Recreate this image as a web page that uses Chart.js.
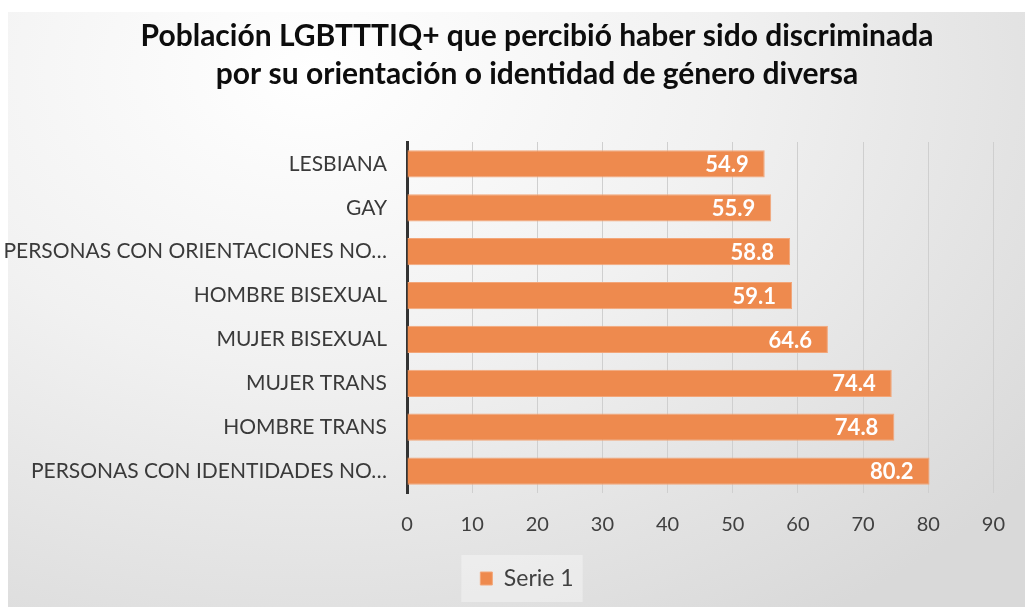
<!DOCTYPE html>
<html>
<head>
<meta charset="utf-8">
<script src="https://cdn.jsdelivr.net/npm/chart.js@4/dist/chart.umd.min.js"></script>
<style>
  html, body { margin: 0; padding: 0; background: #fff; }
  #wrap {
    position: absolute; left: 0; top: 0; width: 1025px; height: 607px;
  }
  #bg {
    position: absolute; left: 8px; top: 12px; width: 1017px; height: 595px;
    background: radial-gradient(ellipse 90% 110% at 30% 10%, #ffffff 0%, #f1f1f1 45%, #d9d9d9 100%);
  }
  canvas { position: absolute; left: 0; top: 0; }
</style>
</head>
<body>
<div id="wrap">
  <div id="bg"></div>
  <canvas id="chart" width="1025" height="607"></canvas>
</div>
<script>
const categories = [
  'LESBIANA',
  'GAY',
  'PERSONAS CON ORIENTACIONES NO…',
  'HOMBRE BISEXUAL',
  'MUJER BISEXUAL',
  'MUJER TRANS',
  'HOMBRE TRANS',
  'PERSONAS CON IDENTIDADES NO…'
];
const serie1 = [54.9, 55.9, 58.8, 59.1, 64.6, 74.4, 74.8, 80.2];
const titleLines = [
  'Población LGBTTTIQ+ que percibió haber sido discriminada',
  'por su orientación o identidad de género diversa'
];

const FONT = 'Lato, "Open Sans", sans-serif';

// title and legend sit a bit right of the canvas centre in the original
const shiftBoxes = {
  id: 'shiftBoxes',
  afterLayout(chart) {
    const t = chart.titleBlock;
    if (t) { t.left += 36; t.right += 36; }
    const lg = chart.legend;
    if (lg) { lg.left += 26; lg.right += 26; }
  }
};

// white value labels at the end of each bar
const barLabels = {
  id: 'barLabels',
  afterDatasetsDraw(chart) {
    const ctx = chart.ctx;
    const meta = chart.getDatasetMeta(0);
    ctx.save();
    ctx.fillStyle = '#ffffff';
    ctx.font = 'bold 22px ' + FONT;
    ctx.textAlign = 'right';
    ctx.textBaseline = 'middle';
    meta.data.forEach((bar, i) => {
      ctx.fillText(serie1[i].toFixed(1), bar.x - 16, bar.y + 1);
    });
    ctx.restore();
  }
};

// faint box behind the legend
const legendBox = {
  id: 'legendBox',
  beforeDraw(chart) {
    const lg = chart.legend;
    if (!lg || !lg.legendHitBoxes.length) return;
    const hb = lg.legendHitBoxes[0];
    const ctx = chart.ctx;
    ctx.save();
    ctx.fillStyle = 'rgba(255,255,255,0.35)';
    ctx.fillRect(hb.left - 19, hb.top - 12, hb.width + 28, hb.height + 24);
    ctx.restore();
  }
};

new Chart(document.getElementById('chart'), {
  type: 'bar',
  data: {
    labels: categories,
    datasets: [{
      label: 'Serie 1',
      data: serie1,
      backgroundColor: '#ee8a4e',
      borderColor: '#f3a679',
      borderWidth: 1,
      categoryPercentage: 0.62,
      barPercentage: 1.0
    }]
  },
  options: {
    indexAxis: 'y',
    responsive: false,
    animation: false,
    layout: { padding: { left: 0, right: 23, top: 0, bottom: 7 } },
    scales: {
      x: {
        min: 0,
        max: 90,
        ticks: { stepSize: 10, color: '#404040', font: { family: FONT, size: 20 }, padding: 20 },
        grid: { color: '#cfcfcf', lineWidth: 1, drawTicks: false },
        border: { display: false },
        afterFit(scale) { scale.height = 64; }
      },
      y: {
        ticks: { color: '#3a3a3a', font: { family: FONT, size: 21 }, padding: 20 },
        grid: { display: false, drawTicks: false },
        border: { display: true, color: '#333333', width: 3 },
        afterFit(scale) { scale.width = 407; }
      }
    },
    plugins: {
      title: {
        display: true,
        text: titleLines,
        color: '#0d0d0d',
        font: { family: FONT, size: 30, weight: 'bold', lineHeight: 1.25 },
        padding: { top: 18, bottom: 49 }
      },
      legend: {
        position: 'bottom',
        labels: {
          color: '#404040',
          font: { family: FONT, size: 23 },
          boxWidth: 12,
          boxHeight: 13,
          padding: 10
        }
      },
      tooltip: { enabled: false }
    }
  },
  plugins: [shiftBoxes, barLabels, legendBox]
});
</script>
</body>
</html>
